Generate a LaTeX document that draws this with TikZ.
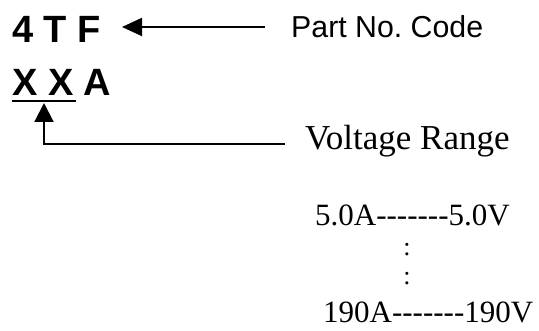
\documentclass[tikz,border=0pt]{standalone}
\usepackage{fontspec}
\setmainfont{Liberation Serif}[Ligatures=TeXOff]
\newfontfamily\arialf{Liberation Sans}
\usetikzlibrary{arrows.meta}
\frenchspacing
\tikzset{
  txt/.style={inner sep=0pt, anchor=base west},
  boldsans/.style={txt, font=\arialf\bfseries\fontsize{38}{38}\selectfont},
  plainsans/.style={txt, font=\arialf\fontsize{30.3}{32}\selectfont},
  serifbig/.style={txt, font=\fontsize{35}{36}\selectfont},
  serifmid/.style={txt, font=\fontsize{31}{32}\selectfont},
  colonst/.style={inner sep=0pt, anchor=base, font=\fontsize{26}{26}\selectfont},
  conn/.style={line width=2pt},
  arr1/.style={conn, -{Triangle[length=20pt,width=18pt]}},
  arr2/.style={conn, -{Triangle[length=19pt,width=19pt]}},
}
\begin{document}
\begin{tikzpicture}[x=1pt,y=1pt]
\useasboundingbox (0,0) rectangle (539,331);
\node[boldsans] (tf) at (12,288) {4 T F};
\node[boldsans] (xxa) at (12,235) {X X A};
\draw[line width=2.5pt] (12,230) -- (76,230);
\node[plainsans] (pc) at (291,293) {Part No.\ Code};
\node[serifbig] (vr) at (305,181) {Voltage Range};
\node[serifmid] (r1) at (315,105) {5.0A-{}-{}-{}-{}-{}-{}-5.0V};
\node[colonst] (c1) at (407,75.5) {:};
\node[colonst] (c2) at (407,46) {:};
\node[serifmid] (r2) at (323,8) {190A-{}-{}-{}-{}-{}-{}-190V};
\coordinate (a1s) at (265,304);
\coordinate (a1e) at (122,304);
\draw[arr1] (a1s) -- (a1e);
\coordinate (a2s) at (285,187);
\coordinate (a2e) at (44,228);
\draw[arr2] (a2s) -| (a2e);
\end{tikzpicture}
\end{document}
